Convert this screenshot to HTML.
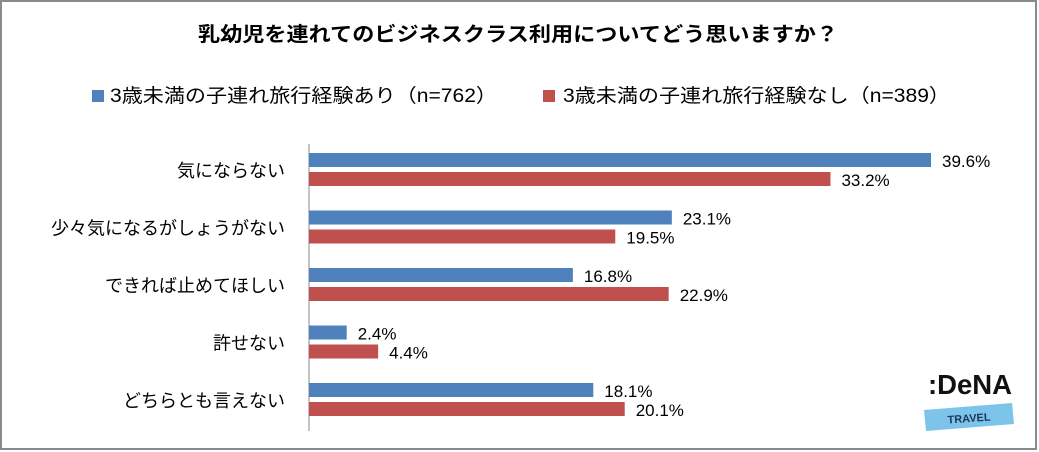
<!DOCTYPE html>
<html><head><meta charset="utf-8"><style>
body{margin:0;background:#fff}
svg{display:block;font-family:"Liberation Sans","Noto Sans CJK JP",sans-serif}
</style></head><body>
<svg id="c" width="1039" height="452">
<rect x="1" y="1" width="1035" height="448" fill="#fff" stroke="#8a8a8a" stroke-width="2"/>
<text x="198" y="41" textLength="640" lengthAdjust="spacingAndGlyphs" font-size="20" font-weight="bold" fill="#000">乳幼児を連れてのビジネスクラス利用についてどう思いますか？</text>
<g>
<rect x="92" y="90" width="12" height="12" fill="#4f81bd"/>
<text x="110" y="102" textLength="387" lengthAdjust="spacingAndGlyphs" font-size="19">3歳未満の子連れ旅行経験あり（n=762）</text>
<rect x="543" y="90" width="12" height="12" fill="#c0504d"/>
<text x="563" y="102" textLength="387" lengthAdjust="spacingAndGlyphs" font-size="19">3歳未満の子連れ旅行経験なし（n=389）</text>
</g>
<line x1="309" y1="144" x2="309" y2="431" stroke="#888"/>
<g id="bars"></g>
<g>
<text x="928" y="394" font-size="28" font-weight="bold" fill="#111" textLength="84" lengthAdjust="spacingAndGlyphs">:DeNA</text>
<polygon points="924,410 1012,403 1014,424 926,431" fill="#7cc4ea"/>
<text x="969" y="422" text-anchor="middle" font-size="11" font-weight="bold" fill="#1d3557" transform="rotate(-4 969 418)">TRAVEL</text>
</g>
</svg>
<script>
const categories=["気にならない","少々気になるがしょうがない","できれば止めてほしい","許せない","どちらとも言えない"];
const withKids=[39.6,23.1,16.8,2.4,18.1];
const withoutKids=[33.2,19.5,22.9,4.4,20.1];
const NS="http://www.w3.org/2000/svg";
const g=document.getElementById("bars");
const x0=309,scale=(931-309)/39.6;
const xs=v=>x0+v*scale;
const yBand=i=>153+i*57.5;
function mk(tag,attrs){const e=document.createElementNS(NS,tag);for(const k in attrs)e.setAttribute(k,attrs[k]);g.appendChild(e);return e;}
categories.forEach((c,i)=>{
  const y=yBand(i);
  const t=mk("text",{x:285,y:y+24,"text-anchor":"end","font-size":"18"});
  t.textContent=c;
  
  
  [[withKids[i],"#4f81bd",0],[withoutKids[i],"#c0504d",19]].forEach(([v,col,off])=>{
    const r=mk("rect",{x:x0,y:y+off,width:xs(v)-x0,height:14,fill:col});
    
    
    const l=mk("text",{x:xs(v)+11,y:y+off+14,"font-size":"17"});
    l.textContent=v.toFixed(1)+"%";
    
    
  });
});
</script>
</body></html>
